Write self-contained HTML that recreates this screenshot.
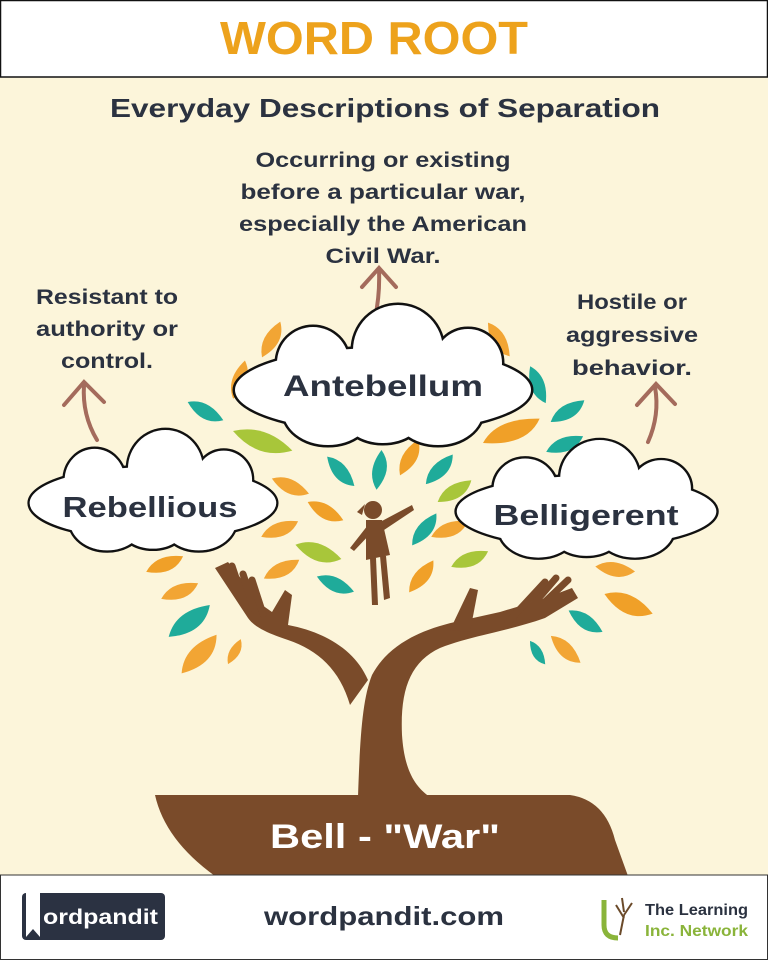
<!DOCTYPE html>
<html><head><meta charset="utf-8"><style>
html,body{margin:0;padding:0;background:#fcf5da;}
svg{display:block;font-family:"Liberation Sans",sans-serif;font-weight:bold;}
</style></head><body>
<svg width="768" height="960" viewBox="0 0 768 960" xmlns="http://www.w3.org/2000/svg">
<defs>
<g id="cl">
<ellipse cx="150" cy="85" rx="148" ry="42"/>
<circle cx="80" cy="58" r="36"/>
<circle cx="165" cy="45" r="45"/>
<circle cx="235" cy="58" r="34"/>
<ellipse cx="95" cy="105" rx="45" ry="35"/>
<ellipse cx="205" cy="105" rx="45" ry="35"/>
<ellipse cx="150" cy="110" rx="40" ry="28"/>
</g>
<path id="lf" d="M-20 0 Q-4 -14 20 -2 Q4 14 -20 0 Z"/>
</defs>
<rect x="0" y="0" width="768" height="960" fill="#fcf5da"/>
<!-- header -->
<rect x="0.5" y="0.5" width="767" height="76.5" fill="#fff" stroke="#111" stroke-width="1.5"/>
<text x="374" y="54" font-size="46" fill="#eda21c" text-anchor="middle" textLength="308" lengthAdjust="spacingAndGlyphs">WORD ROOT</text>
<text x="385" y="117" font-size="26" fill="#2b3240" text-anchor="middle" textLength="550" lengthAdjust="spacingAndGlyphs">Everyday Descriptions of Separation</text>

<!-- descriptions -->
<g font-size="21" fill="#2b3240" text-anchor="middle">
<text x="383" y="167" textLength="255" lengthAdjust="spacingAndGlyphs">Occurring or existing</text>
<text x="383" y="199" textLength="285" lengthAdjust="spacingAndGlyphs">before a particular war,</text>
<text x="383" y="231" textLength="288" lengthAdjust="spacingAndGlyphs">especially the American</text>
<text x="383" y="263" textLength="115" lengthAdjust="spacingAndGlyphs">Civil War.</text>
<text x="107" y="304" textLength="142" lengthAdjust="spacingAndGlyphs">Resistant to</text>
<text x="107" y="336" textLength="142" lengthAdjust="spacingAndGlyphs">authority or</text>
<text x="107" y="368" textLength="92" lengthAdjust="spacingAndGlyphs">control.</text>
<text x="632" y="309" textLength="110" lengthAdjust="spacingAndGlyphs">Hostile or</text>
<text x="632" y="342" textLength="132" lengthAdjust="spacingAndGlyphs">aggressive</text>
<text x="632" y="375" textLength="120" lengthAdjust="spacingAndGlyphs">behavior.</text>
</g>
<!-- arrows -->
<g stroke="#a46b5c" stroke-width="4" fill="none" stroke-linecap="round">
<path d="M97 440 Q82 415 84 385"/><path d="M64 405 L84 382 L104 402"/>
<path d="M375 318 Q380 295 379 270"/><path d="M362 287 L379 268 L396 287"/>
<path d="M648 442 Q660 415 655 387"/><path d="M637 405 L656 384 L675 404"/>
</g>

<!-- leaves -->
<g>
<use href="#lf" transform="translate(272,340) rotate(-60)" fill="#f2a534"/>
<use href="#lf" transform="translate(498,340) rotate(60)" fill="#f2a534"/>
<use href="#lf" transform="translate(537,385) rotate(70)" fill="#1fab9a"/>
<use href="#lf" transform="translate(240,380) rotate(-70)" fill="#f2a534"/>
<use href="#lf" transform="translate(205,412) rotate(30)" fill="#1fab9a"/>
<use href="#lf" transform="translate(568,412) rotate(-30)" fill="#1fab9a"/>
<use href="#lf" transform="translate(262,442) scale(1.6,1.3) rotate(25)" fill="#a8c63a"/>
<use href="#lf" transform="translate(512,432) scale(1.6,1.3) rotate(-25)" fill="#f0a028"/>
<use href="#lf" transform="translate(565,445) rotate(-20)" fill="#1fab9a"/>
<use href="#lf" transform="translate(340,472) rotate(50)" fill="#1fab9a"/>
<use href="#lf" transform="translate(380,470) rotate(-80)" fill="#1fab9a"/>
<use href="#lf" transform="translate(440,470) rotate(-45)" fill="#1fab9a"/>
<use href="#lf" transform="translate(410,458) rotate(-60)" fill="#f0a028"/>
<use href="#lf" transform="translate(290,487) rotate(25)" fill="#f2a534"/>
<use href="#lf" transform="translate(325,512) rotate(30)" fill="#f0a028"/>
<use href="#lf" transform="translate(455,492) rotate(-30)" fill="#a8c63a"/>
<use href="#lf" transform="translate(425,530) rotate(-50)" fill="#1fab9a"/>
<use href="#lf" transform="translate(450,530) rotate(-20)" fill="#f2a534"/>
<use href="#lf" transform="translate(318,553) scale(1.2) rotate(20)" fill="#a8c63a"/>
<use href="#lf" transform="translate(280,530) rotate(-20)" fill="#f2a534"/>
<use href="#lf" transform="translate(470,560) rotate(-20)" fill="#a8c63a"/>
<use href="#lf" transform="translate(422,577) rotate(-50)" fill="#f0a028"/>
<use href="#lf" transform="translate(335,585) rotate(25)" fill="#1fab9a"/>
<use href="#lf" transform="translate(282,570) rotate(-25)" fill="#f2a534"/>
<use href="#lf" transform="translate(180,592) rotate(-20)" fill="#f2a534"/>
<use href="#lf" transform="translate(165,565) rotate(-20)" fill="#f0a028"/>
<use href="#lf" transform="translate(190,622) scale(1.3) rotate(-35)" fill="#1fab9a"/>
<use href="#lf" transform="translate(200,655) scale(1.3) rotate(-45)" fill="#f2a534"/>
<use href="#lf" transform="translate(235,652) scale(0.7) rotate(-60)" fill="#f2a534"/>
<use href="#lf" transform="translate(615,570) rotate(10)" fill="#f2a534"/>
<use href="#lf" transform="translate(628,605) scale(1.3) rotate(25)" fill="#f0a028"/>
<use href="#lf" transform="translate(585,622) rotate(35)" fill="#1fab9a"/>
<use href="#lf" transform="translate(565,650) rotate(45)" fill="#f2a534"/>
<use href="#lf" transform="translate(537,653) scale(0.7) rotate(60)" fill="#1fab9a"/>
</g>

<!-- clouds -->
<g transform="translate(233,305)" stroke="#111" stroke-width="5" fill="#111"><use href="#cl"/></g>
<g transform="translate(233,305)" fill="#fff"><use href="#cl"/></g>
<g transform="translate(28,430) scale(0.833,0.86)" stroke="#111" stroke-width="5.5" fill="#111"><use href="#cl"/></g>
<g transform="translate(28,430) scale(0.833,0.86)" fill="#fff"><use href="#cl"/></g>
<g transform="translate(455,440) scale(0.877,0.84)" stroke="#111" stroke-width="5.5" fill="#111"><use href="#cl"/></g>
<g transform="translate(455,440) scale(0.877,0.84)" fill="#fff"><use href="#cl"/></g>
<g fill="#2b3240" text-anchor="middle">
<text x="383" y="396" font-size="30" textLength="200" lengthAdjust="spacingAndGlyphs">Antebellum</text>
<text x="150" y="517" font-size="29" textLength="175" lengthAdjust="spacingAndGlyphs">Rebellious</text>
<text x="586" y="525" font-size="29" textLength="185" lengthAdjust="spacingAndGlyphs">Belligerent</text>
</g>

<!-- tree -->
<g fill="#7a4b2a">
<!-- child -->
<circle cx="373" cy="510" r="9"/>
<path d="M365 504 L357 512 L362 515 Z"/>
<path d="M366 520 L382 520 L390 555 L366 560 Z"/>
<path d="M380 522 L412 505 L414 510 L384 530 Z"/>
<path d="M368 525 L350 548 L354 551 L372 532 Z"/>
<path d="M370 558 L376 558 L378 605 L372 605 Z"/>
<path d="M380 556 L386 556 L390 598 L384 600 Z"/>
<!-- trunk + right arm -->
<path d="M358 797 C360 740 362 700 372 675 C388 645 420 630 455 622 L500 612 L540 600 L572 588 L578 598 L545 618 C505 632 470 636 440 648 C410 662 400 690 402 735 C404 765 412 785 430 797 Z"/>
<!-- left arm -->
<path d="M350 705 C340 670 318 650 288 640 C270 634 255 628 248 618 L215 568 L228 562 L262 605 L272 612 L285 590 L292 595 L288 625 C325 632 355 650 368 680 Z"/>
<!-- right thumb -->
<path d="M450 630 L470 588 L478 590 L470 632 Z"/>
</g>
<g stroke="#7a4b2a" stroke-width="7" stroke-linecap="round">
<line x1="245" y1="605" x2="232" y2="566"/>
<line x1="255" y1="610" x2="243" y2="574"/>
<line x1="263" y1="614" x2="252" y2="580"/>
<line x1="530" y1="616" x2="568" y2="580"/>
<line x1="520" y1="620" x2="556" y2="578"/>
<line x1="508" y1="622" x2="545" y2="582"/>
</g>
<path d="M155 795 L570 795 Q605 800 615 840 L628 876 L215 876 Q165 840 155 795 Z" fill="#7a4b2a"/>
<text x="385" y="848" font-size="34" fill="#fff" text-anchor="middle" textLength="230" lengthAdjust="spacingAndGlyphs">Bell - "War"</text>

<!-- footer -->
<rect x="0.5" y="875" width="767" height="84.5" fill="#fff" stroke="#333" stroke-width="1"/>
<rect x="22" y="893" width="143" height="47" rx="4" fill="#2b3242"/>
<path d="M26 893 L26 937 L33 929 L40 937 L40 893 Z" fill="#fff"/>
<text x="43" y="924" font-size="21" fill="#fff" textLength="115" lengthAdjust="spacingAndGlyphs">ordpandit</text>
<text x="384" y="925" font-size="26" fill="#2b3240" text-anchor="middle" textLength="240" lengthAdjust="spacingAndGlyphs">wordpandit.com</text>
<path d="M604 900 L604 925 Q604 938 618 938" stroke="#8ab43a" stroke-width="5" fill="none"/>
<path d="M620 935 L624 915 M624 918 L616 905 M624 915 L632 903 M624 912 L622 898" stroke="#6b4a2a" stroke-width="2" fill="none"/>
<text x="645" y="915" font-size="16" fill="#2b3240" textLength="103" lengthAdjust="spacingAndGlyphs">The Learning</text>
<text x="645" y="936" font-size="16" fill="#8ab43a" textLength="103" lengthAdjust="spacingAndGlyphs">Inc. Network</text>
</svg>
</body></html>
